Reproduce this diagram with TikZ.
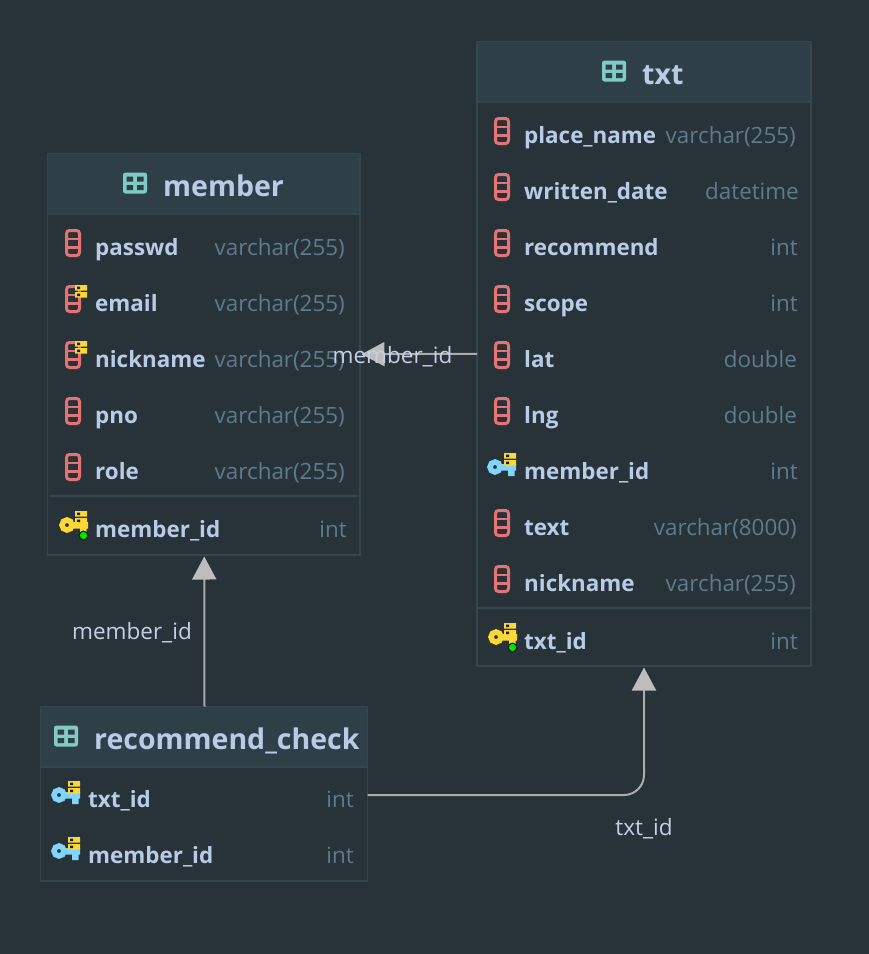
\documentclass[tikz,border=0pt]{standalone}
\usepackage{fontspec}
\setmainfont{Open Sans}
\usetikzlibrary{fit,arrows.meta}
\definecolor{bgc}{HTML}{283239}
\definecolor{headc}{HTML}{2F3F48}
\definecolor{edgec}{HTML}{34454F}
\definecolor{labc}{HTML}{B9CBE6}
\definecolor{typec}{HTML}{5F7B8B}
\definecolor{redc}{HTML}{E57373}
\definecolor{tealc}{HTML}{80CBC4}
\definecolor{yelc}{HTML}{FDD835}
\definecolor{bluec}{HTML}{81D4FA}
\definecolor{linkc}{HTML}{ABABAB}
\definecolor{tipc}{HTML}{BDBDBD}
\definecolor{linklabc}{HTML}{C5D0E6}
\tikzset{
  x=1pt,y=-1pt,
  tablebox/.style={draw=edgec,line width=1.5pt,inner sep=0pt,outer sep=0pt},
  headbox/.style={draw=edgec,line width=1.5pt,fill=headc,inner sep=0pt,outer sep=0pt},
  rowbox/.style={inner sep=0pt,outer sep=0pt},
  divider/.style={draw=edgec,line width=2pt},
  titletext/.style={anchor=base west,inner sep=0pt,text=labc,font=\fontsize{28.5}{30}\selectfont\bfseries},
  collabel/.style={anchor=base west,inner sep=0pt,text=labc,font=\fontsize{22.4}{24}\selectfont\bfseries},
  coltype/.style={anchor=base east,inner sep=0pt,text=typec,font=\fontsize{22.4}{24}\selectfont},
  linklabel/.style={inner sep=0pt,text=linklabc,font=\fontsize{22.5}{24}\selectfont},
  link/.style={draw=linkc,line width=2pt,-{Triangle[length=23pt,width=24pt,fill=tipc,color=tipc]},shorten >=1.5pt},
  tableicon/.pic={
    \fill[tealc,rounded corners=2.5pt] (-12,-10.5) rectangle (12,10.5);
    \fill[headc] (-8.5,-6.5) rectangle (-2,-1.5) (2,-6.5) rectangle (8.5,-1.5)
                 (-8.5,2) rectangle (-2,7) (2,2) rectangle (8.5,7);
  },
  colicon/.pic={
    \draw[redc,line width=3pt,rounded corners=3pt] (-6.5,-12.5) rectangle (6.5,12.5);
    \draw[redc,line width=2.6pt] (-6.5,-4.2) -- (6.5,-4.2) (-6.5,4.2) -- (6.5,4.2);
  },
  stackicon/.pic={
    \fill[yelc] (0,0) rectangle (12,5.5) (0,7) rectangle (12,12.5);
    \fill[bgc!60!black] (2,1.5) rectangle (5,4) (2,8.5) rectangle (5,11);
  },
  keyicon/.pic={
    \draw[#1,line width=5.5pt] (0,0) circle (5);
    \fill[#1] (6,-3) rectangle (21,3.5) (13,0) rectangle (19.5,9);
  },
}
% name, table left, table right, y centre, icon code, label, type, right edge of type
\newcommand{\colrow}[8]{%
  \node[rowbox,fit={(#2,#4-28)(#3,#4+28)}] (#1) {};
  \node[collabel] (#1-label) at (#2+47.5,#4+8) {#6};
  \node[coltype] (#1-type) at (#8,#4+8) {#7};
  \begin{scope}[shift={(#2,#4)}]#5\end{scope}%
}
\newcommand{\plainicon}{\pic at (25.5,-4) {colicon};}
\newcommand{\uniqueicon}{\pic at (25.5,-4) {colicon};\pic at (27.5,-18) {stackicon};}
\newcommand{\fkicon}{\pic at (18.5,-4) {keyicon=bluec};\pic at (27.5,-18) {stackicon};}
\newcommand{\rcfkicon}{\pic at (18.5,-4) {keyicon=bluec};\pic at (27.5,-18) {stackicon};}
\newcommand{\pkicon}{\pic at (19.5,-4) {keyicon=yelc};\pic at (27.5,-18) {stackicon};
  \fill[bgc!50!black] (36,6.5) circle (5);\fill[green!90!black] (36,6.5) circle (3.6);}
\begin{document}
\begin{tikzpicture}
\useasboundingbox[fill=bgc] (0,0) rectangle (869,954);

% member
\node[tablebox,fit={(47.5,153.5)(360,555)}] (member) {};
\node[headbox,fit={(47.5,153.5)(360,214)}] (memberhead) {};
\pic at (135,183) {tableicon};
\node[titletext] (membertitle) at (163,196) {member};
\colrow{m1}{47.5}{360}{247}{\plainicon}{passwd}{varchar(255)}{345}
\colrow{m2}{47.5}{360}{303}{\uniqueicon}{email}{varchar(255)}{345}
\colrow{m3}{47.5}{360}{359}{\uniqueicon}{nickname}{varchar(255)}{345}
\colrow{m4}{47.5}{360}{415}{\plainicon}{pno}{varchar(255)}{345}
\colrow{m5}{47.5}{360}{471}{\plainicon}{role}{varchar(255)}{345}
\draw[divider] (48.5,496) -- (359,496);
\colrow{m6}{47.5}{360}{529}{\pkicon}{member\_id}{int}{347}

% txt
\node[tablebox,fit={(477,41.5)(811,666)}] (txt) {};
\node[headbox,fit={(477,41.5)(811,102)}] (txthead) {};
\pic at (614,71) {tableicon};
\node[titletext] (txttitle) at (642,84) {txt};
\colrow{t1}{476.5}{811}{135}{\plainicon}{place\_name}{varchar(255)}{796}
\colrow{t2}{476.5}{811}{191}{\plainicon}{written\_date}{datetime}{799}
\colrow{t3}{476.5}{811}{247}{\plainicon}{recommend}{int}{798}
\colrow{t4}{476.5}{811}{303}{\plainicon}{scope}{int}{798}
\colrow{t5}{476.5}{811}{359}{\plainicon}{lat}{double}{797}
\colrow{t6}{476.5}{811}{415}{\plainicon}{lng}{double}{797}
\colrow{t7}{476.5}{811}{471}{\fkicon}{member\_id}{int}{798}
\colrow{t8}{476.5}{811}{527}{\plainicon}{text}{varchar(8000)}{797}
\colrow{t9}{476.5}{811}{583}{\plainicon}{nickname}{varchar(255)}{796}
\draw[divider] (478,607.5) -- (810,607.5);
\colrow{t10}{476.5}{811}{641}{\pkicon}{txt\_id}{int}{798}

% recommend_check
\node[tablebox,fit={(40.5,706.5)(367.5,881)}] (rc) {};
\node[headbox,fit={(40.5,706.5)(367.5,767)}] (rchead) {};
\pic at (66,736) {tableicon};
\node[titletext] (rctitle) at (94,749) {recommend\_check};
\colrow{r1}{40.5}{367.5}{799}{\rcfkicon}{txt\_id}{int}{354}
\colrow{r2}{40.5}{367.5}{855}{\rcfkicon}{member\_id}{int}{354}

% connectors
\draw[link] (txt.west) -- (member.east);
\draw[link] ([xshift=0.5pt]rc.north) -- ([xshift=0.5pt]member.south);
\draw[link,rounded corners=20pt] ([yshift=4pt]r1.east) -| (txt.south);
\node[linklabel] (l1) at (392.5,357) {member\_id};
\node[linklabel] (l2) at (132,633) {member\_id};
\node[linklabel] (l3) at (644,829) {txt\_id};
\end{tikzpicture}
\end{document}
